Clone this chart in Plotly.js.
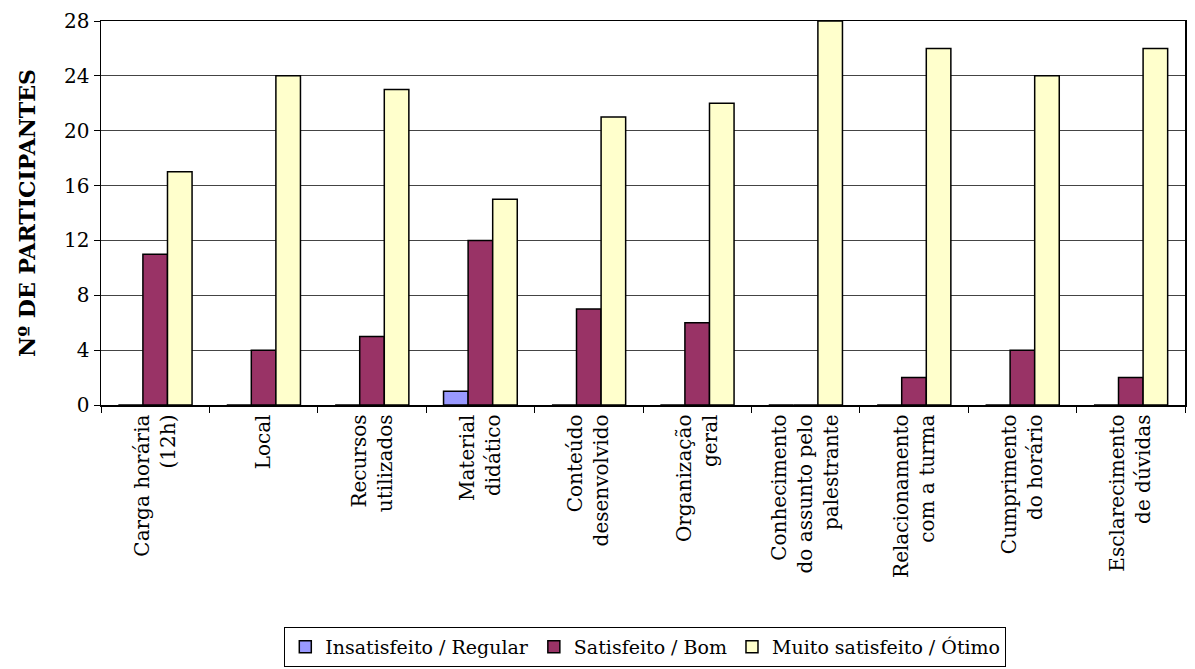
<!DOCTYPE html>
<html>
<head>
<meta charset="utf-8">
<script src="https://cdn.plot.ly/plotly-3.0.1.min.js"></script>
<style>html,body{margin:0;padding:0;background:#fff;}#chart{width:1195px;height:669px;}</style>
</head>
<body>
<div id="chart"></div>
<script>
const categories = [
  "Carga horária<br>(12h)",
  "Local",
  "Recursos<br>utilizados",
  "Material<br>didático",
  "Conteúdo<br>desenvolvido",
  "Organização<br>geral",
  "Conhecimento<br>do assunto pelo<br>palestrante",
  "Relacionamento<br>com a turma",
  "Cumprimento<br>do horário",
  "Esclarecimento<br>de dúvidas"
];
const insatisfeito = [0, 0, 0, 1, 0, 0, 0, 0, 0, 0];
const satisfeito   = [11, 4, 5, 12, 7, 6, 0, 2, 4, 2];
const muitoSatisfeito = [17, 24, 23, 15, 21, 22, 28, 26, 24, 26];
const seriesNames = ["Insatisfeito / Regular", "Satisfeito / Bom", "Muito satisfeito / Ótimo"];
const yTicks = [0, 4, 8, 12, 16, 20, 24, 28];

const font = "DejaVu Serif";
const colors = ["#9999FF", "#993366", "#FFFFCC"];
const vals = [insatisfeito, satisfeito, muitoSatisfeito];

const data = vals.map((v, i) => ({
  type: "bar",
  name: seriesNames[i],
  x: categories,
  y: v,
  marker: {color: colors[i], line: {color: "#000", width: 1.5}}
}));

const layout = {
  width: 1195, height: 669,
  margin: {l: 101, r: 10, t: 21, b: 264, autoexpand: false},
  paper_bgcolor: "#fff", plot_bgcolor: "#fff",
  font: {family: font, size: 20, color: "#000"},
  barmode: "group",
  bargap: 0.32,
  bargroupgap: 0,
  showlegend: true,
  legend: {
    orientation: "h", x: 0.54, xanchor: "center", xref: "container",
    y: 0.033, yanchor: "middle", yref: "container",
    bordercolor: "#000", borderwidth: 1, font: {family: font, size: 19},
    traceorder: "normal", itemwidth: 30
  },
  xaxis: {
    type: "category",
    tickangle: -90,
    tickson: "boundaries",
    ticks: "outside", ticklen: 6, tickcolor: "#000",
    showline: true, linecolor: "#000", linewidth: 1.5, mirror: true,
    showgrid: false,
    tickfont: {family: font, size: 20},
    automargin: false
  },
  yaxis: {
    range: [0, 28],
    tickvals: yTicks,
    ticks: "outside", ticklen: 6, tickcolor: "#000",
    showline: true, linecolor: "#000", linewidth: 1.5, mirror: true,
    showgrid: true, gridcolor: "#444", gridwidth: 1,
    zeroline: false,
    tickfont: {family: font, size: 20},
    title: {text: "<b>Nº DE PARTICIPANTES</b>", font: {family: font, size: 22}, standoff: 22},
    automargin: false
  }
};

Plotly.newPlot("chart", data, layout, {displayModeBar: false, staticPlot: true});
</script>
</body>
</html>
